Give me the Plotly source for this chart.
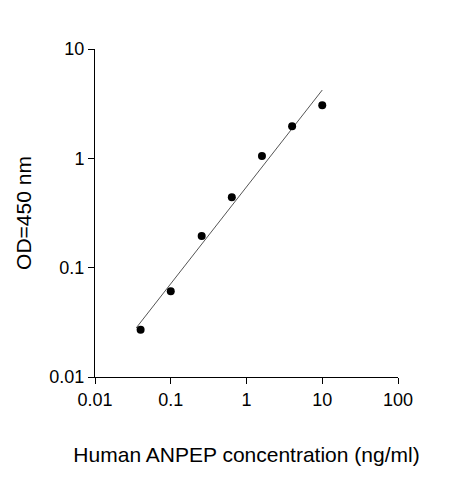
import numpy as np
import plotly.graph_objects as go

conc = [0.04, 0.1, 0.256, 0.64, 1.6, 4, 10]
od = [0.027, 0.061, 0.195, 0.44, 1.05, 1.97, 3.06]
tick_vals_x = [0.01, 0.1, 1, 10, 100]
tick_vals_y = [0.01, 0.1, 1, 10]

# linear fit in log-log space
k, b = np.polyfit(np.log10(conc), np.log10(od), 1)
fit_x = np.array([0.035, 10])
fit_y = 10 ** (k * np.log10(fit_x) + b)

fig = go.Figure()
fig.add_trace(go.Scatter(x=fit_x, y=fit_y, mode='lines',
                         line=dict(color='#555555', width=1)))
fig.add_trace(go.Scatter(x=conc, y=od, mode='markers',
                         marker=dict(color='black', size=8)))

axis_style = dict(type='log', showgrid=False, zeroline=False, showline=True,
                  linecolor='black', linewidth=1, ticks='outside', ticklen=6,
                  tickcolor='black', tickfont=dict(family='Arial', size=18, color='black'),
                  title_font=dict(family='Arial', size=21, color='black'))
fig.update_xaxes(axis_style, range=[-2, 2], tickvals=tick_vals_x,
                 ticktext=['0.01', '0.1', '1', '10', '100'],
                 title_text='Human ANPEP concentration (ng/ml)', title_standoff=38)
fig.update_yaxes(axis_style, range=[-2, 1], tickvals=tick_vals_y,
                 ticktext=['0.01', '0.1', '1', '10'],
                 title_text='OD=450 nm', title_standoff=12)
fig.update_layout(width=463, height=480, showlegend=False,
                  plot_bgcolor='white', paper_bgcolor='white',
                  margin=dict(l=87, r=73, t=41, b=111))
fig.write_html("out.html")
